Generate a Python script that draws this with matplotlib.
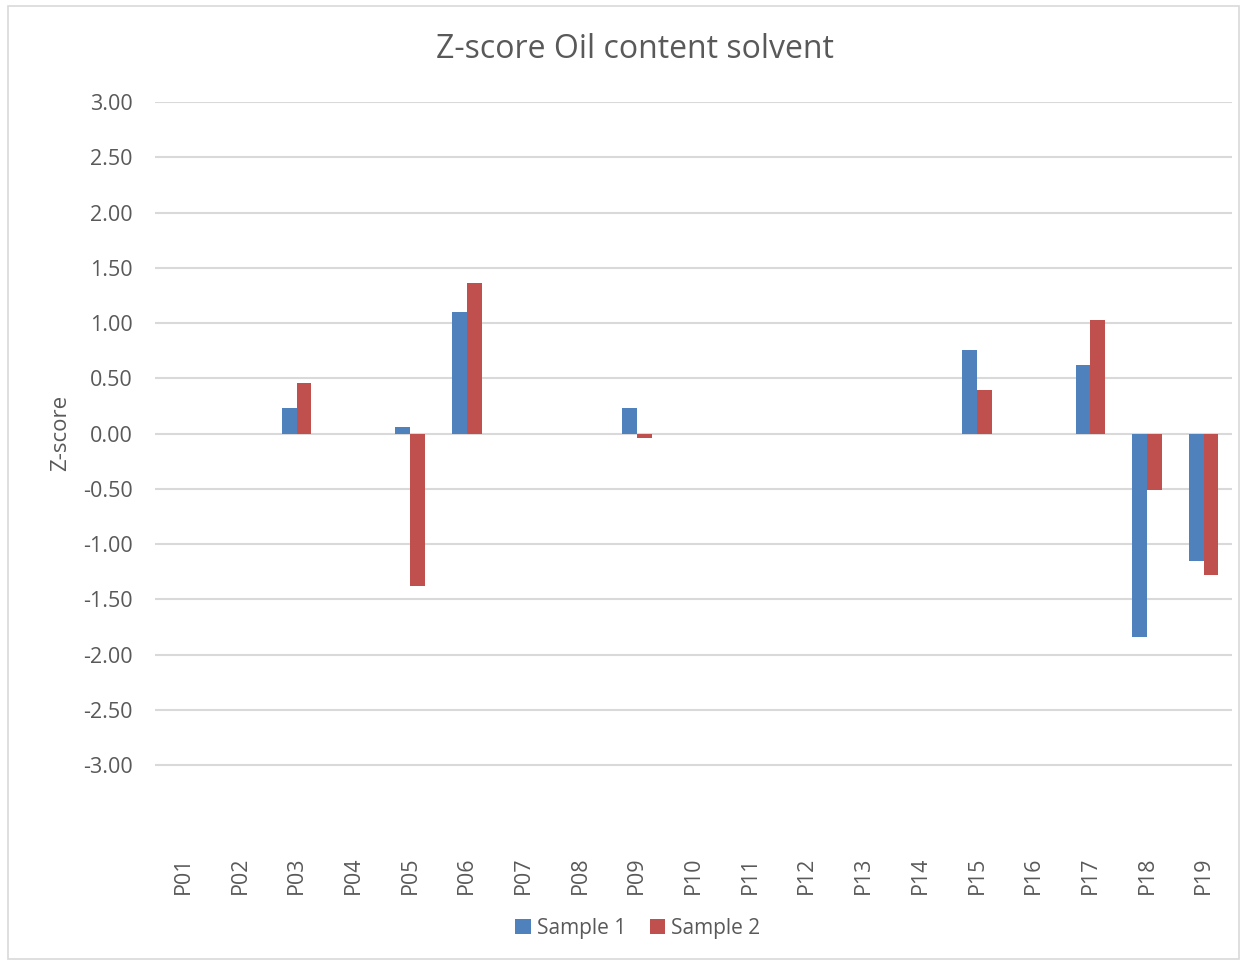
import numpy as np
import matplotlib
matplotlib.use("Agg")
import matplotlib.pyplot as plt
from matplotlib.patches import Rectangle

# data (NaN = no result)
participants = [f"P{i:02d}" for i in range(1, 20)]
sample1 = [np.nan, np.nan, 0.23, np.nan, 0.06, 1.10, np.nan, np.nan, 0.23, np.nan,
           np.nan, np.nan, np.nan, np.nan, 0.76, np.nan, 0.62, -1.84, -1.15]
sample2 = [np.nan, np.nan, 0.46, np.nan, -1.38, 1.36, np.nan, np.nan, -0.04, np.nan,
           np.nan, np.nan, np.nan, np.nan, 0.39, np.nan, 1.03, -0.51, -1.28]
y_ticks = [-3.0, -2.5, -2.0, -1.5, -1.0, -0.5, 0.0, 0.5, 1.0, 1.5, 2.0, 2.5, 3.0]

plt.rcParams['font.family'] = ['Open Sans', 'DejaVu Sans']
text_col = '#595959'
blue = '#4F81BD'
red = '#C0504D'

fig = plt.figure(figsize=(12.45, 9.63), dpi=100)
ax = fig.add_axes([155 / 1245, 1 - 848 / 963, (1232 - 155) / 1245, (848 - 102) / 963])

x = np.arange(len(participants))
w = 0.26
ax.bar(x - w / 2, sample1, width=w, color=blue, label='Sample 1', zorder=3)
ax.bar(x + w / 2, sample2, width=w, color=red, label='Sample 2', zorder=3)

ax.set_xlim(-0.5, len(participants) - 0.5)
ax.set_ylim(-3.75, 3.0)
ax.set_yticks(y_ticks)
ax.set_yticklabels([f"{v:.2f}" for v in y_ticks])
for v in y_ticks:
    ax.axhline(v, color='#D9D9D9', linewidth=1.5, zorder=1)

ax.set_xticks(x)
ax.set_xticklabels(participants, rotation=90)
for s in ax.spines.values():
    s.set_visible(False)
ax.tick_params(axis='both', length=0, labelsize=15.5, labelcolor=text_col)
ax.tick_params(axis='y', pad=16)
ax.tick_params(axis='x', pad=6)

ax.set_ylabel('Z-score', fontsize=16, color=text_col)
ax.yaxis.set_label_coords(-0.078, (848 - 433) / (848 - 102))

fig.text(0.51, 1 - 49 / 963, 'Z-score Oil content solvent', ha='center', va='center',
         fontsize=23, color=text_col)

fig.legend(loc='center', bbox_to_anchor=(638 / 1245, 1 - 928 / 963), ncol=2, frameon=False,
           fontsize=15, labelcolor=text_col, handlelength=0.75, handleheight=0.75,
           handletextpad=0.3, columnspacing=1.1)

fig.patches.append(Rectangle((8 / 1245, 4 / 963), 1 - 14 / 1245, 1 - 10 / 963,
                             transform=fig.transFigure, fill=False,
                             edgecolor='#D9D9D9', linewidth=1.2))

fig.savefig('out.png', dpi=100, facecolor='white')
